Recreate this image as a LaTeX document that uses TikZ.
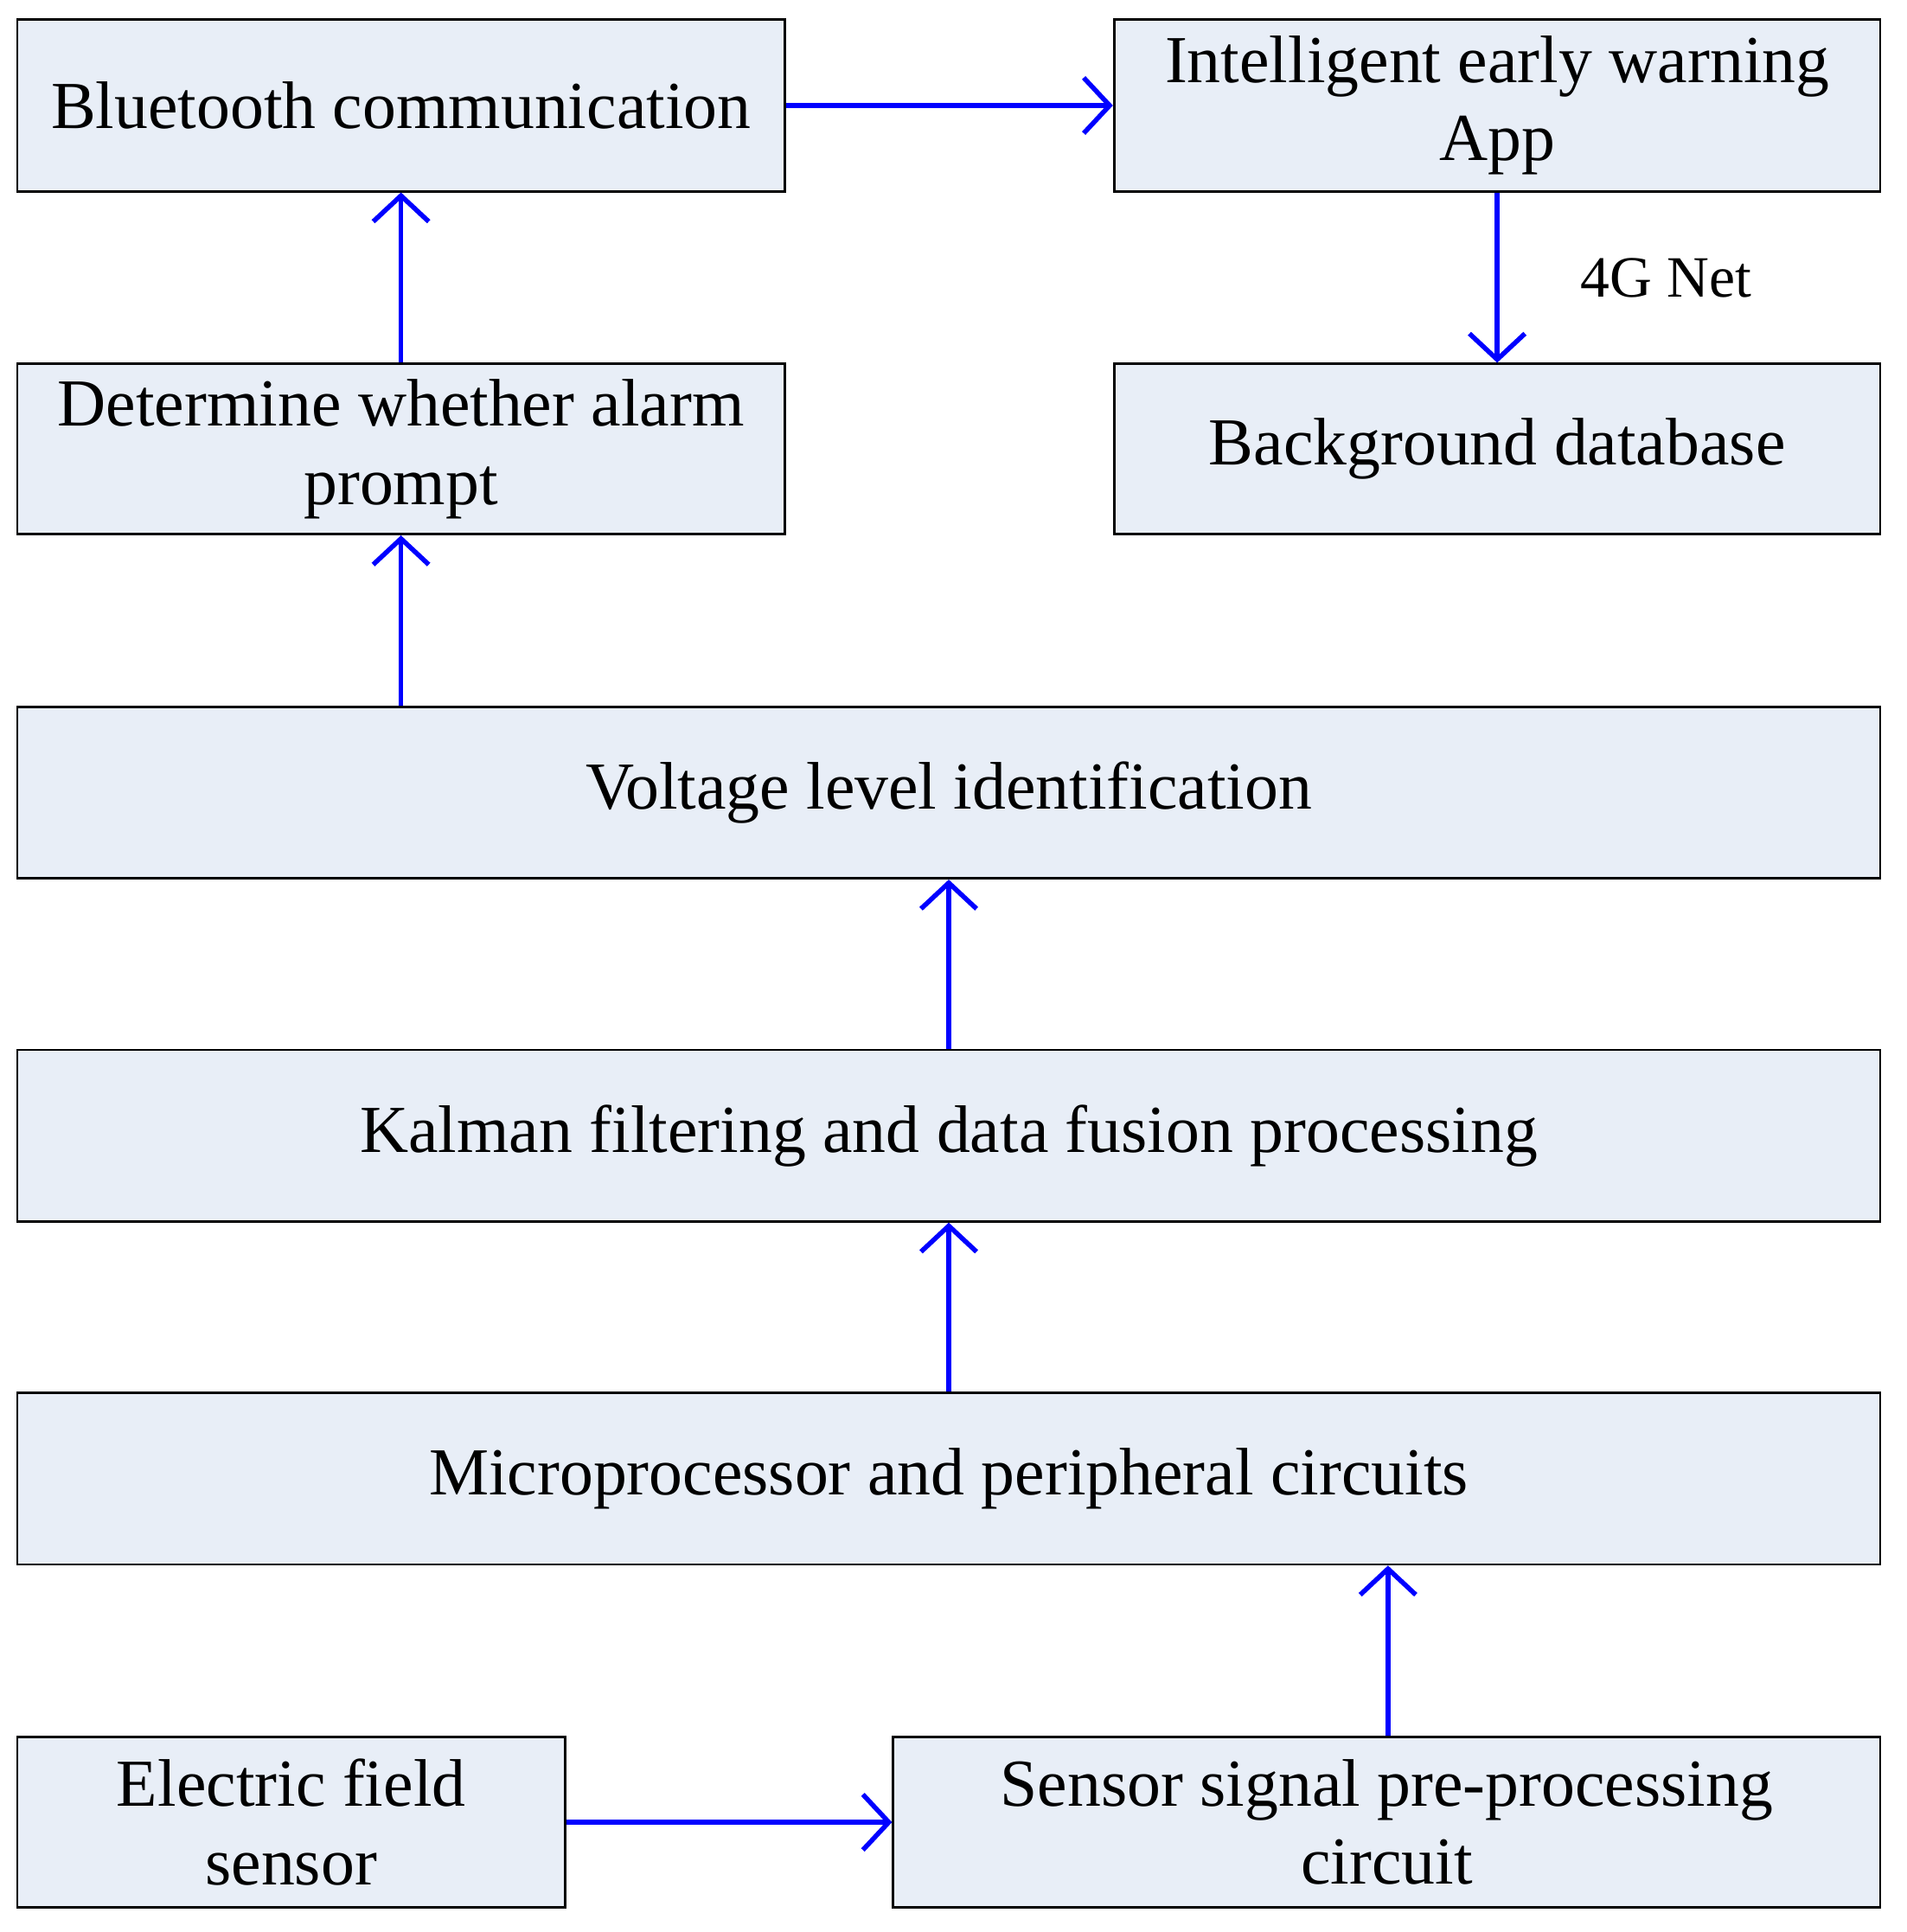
\documentclass[tikz,border=0pt]{standalone}
\usepackage{fontspec}
\setmainfont{Liberation Serif}
\usetikzlibrary{arrows.meta}
\definecolor{boxfill}{HTML}{E8EEF7}
\tikzset{
  box/.style={draw=black, line width=1.1pt, fill=boxfill, align=center,
    inner sep=0pt, font=\fontsize{31}{36}\selectfont},
  link/.style={draw=blue, line width=2.2pt,
    -{Straight Barb[length=0.42cm,width=0.9cm,line width=2.2pt]}},
}
\begin{document}
\begin{tikzpicture}[x=0.02cm,y=-0.02cm]
\useasboundingbox (0,0) rectangle (1545,1566);
% boxes: centre, width, height
\node[box, minimum width=622*0.02cm, minimum height=139*0.02cm] (bt) at (325,85.5) {Bluetooth communication};
\node[box, minimum width=621*0.02cm, minimum height=139*0.02cm] (app) at (1213.5,85.5) {Intelligent early warning\\App};
\node[box, minimum width=622*0.02cm, minimum height=138*0.02cm] (alarm) at (325,364) {Determine whether alarm\\prompt};
\node[box, minimum width=621*0.02cm, minimum height=138*0.02cm] (db) at (1213.5,364) {Background database};
\node[box, minimum width=1510*0.02cm, minimum height=139*0.02cm] (volt) at (769,642.5) {Voltage level identification};
\node[box, minimum width=1510*0.02cm, minimum height=139*0.02cm] (kal) at (769,920.5) {Kalman filtering and data fusion processing};
\node[box, minimum width=1510*0.02cm, minimum height=139*0.02cm] (mcu) at (769,1198.5) {Microprocessor and peripheral circuits};
\node[box, minimum width=444*0.02cm, minimum height=138*0.02cm] (efs) at (236,1477) {Electric field\\sensor};
\node[box, minimum width=800*0.02cm, minimum height=138*0.02cm] (pre) at (1124,1477) {Sensor signal pre-processing\\circuit};
% connectors
\draw[link] (efs.east) -- (pre.west);
\draw[link] (pre.north -| 1125,0) -- (mcu.south -| 1125,0);
\draw[link] (mcu.north) -- (kal.south);
\draw[link] (kal.north) -- (volt.south);
\draw[link] (volt.north -| alarm.south) -- (alarm.south);
\draw[link] (alarm.north) -- (bt.south);
\draw[link] (bt.east) -- (app.west);
\draw[link] (app.south) -- node[right=1.2cm, font=\fontsize{27}{32}\selectfont, black] {4G Net} (db.north);
\end{tikzpicture}
\end{document}
